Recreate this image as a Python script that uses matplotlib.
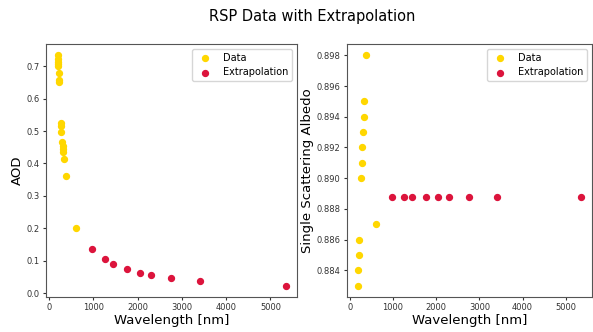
import numpy as np
import matplotlib
matplotlib.use("Agg")
import matplotlib.pyplot as plt

# RSP Messdaten (AOD)
aod_wl = [190, 195, 198, 200, 205, 215, 220, 222,
          262, 265, 275, 292, 300, 308, 318, 333, 386, 597]
aod_val = [0.733, 0.722, 0.714, 0.706, 0.70, 0.678, 0.658, 0.65,
           0.526, 0.516, 0.496, 0.467, 0.455, 0.445, 0.436, 0.414, 0.36, 0.20]

# RSP Messdaten (SSA)
ssa_wl = [190, 197, 205, 208, 606, 258, 273, 288, 311, 318, 326, 379]
ssa_val = [0.883, 0.884, 0.885, 0.886, 0.887, 0.890, 0.891, 0.892,
           0.893, 0.894, 0.895, 0.898]

# Extrapolation
ext_wl = [977, 1265, 1447, 1765, 2042, 2300, 2750, 3410, 5345]
ext_aod = [0.137, 0.105, 0.091, 0.075, 0.064, 0.057, 0.048, 0.038, 0.024]
ext_ssa = [0.88877] * len(ext_wl)

fig = plt.figure(figsize=(5.93, 3.32), dpi=100)
ax1 = fig.add_axes([0.078, 0.105, 0.423, 0.763])
ax2 = fig.add_axes([0.585, 0.105, 0.413, 0.763])

for ax, wl, val, ev, lab in [(ax1, aod_wl, aod_val, ext_aod, 'AOD'),
                             (ax2, ssa_wl, ssa_val, ext_ssa, 'Single Scattering Albedo')]:
    ax.scatter(wl, val, s=18, color='gold', label='Data')
    ax.scatter(ext_wl, ev, s=18, color='crimson', label='Extrapolation')
    ax.set_xlabel('Wavelength [nm]', fontsize=9.5, labelpad=1)
    ax.set_ylabel(lab, fontsize=9.5, labelpad=2)
    ax.tick_params(labelsize=6, length=2.5, pad=2, colors='#333333')
    for sp in ax.spines.values():
        sp.set_color('#555555')
    ax.legend(loc='upper right', fontsize=7)

ax1.set_xticks([0, 1000, 2000, 3000, 4000, 5000])
ax2.set_xticks([0, 1000, 2000, 3000, 4000, 5000])
ax2.set_yticks(np.arange(0.884, 0.8985, 0.002))
ax2.yaxis.set_major_formatter(matplotlib.ticker.FormatStrFormatter('%.3f'))

fig.suptitle('RSP Data with Extrapolation', fontsize=10.5, x=0.527, y=0.972)
fig.savefig('out.png', dpi=100)
